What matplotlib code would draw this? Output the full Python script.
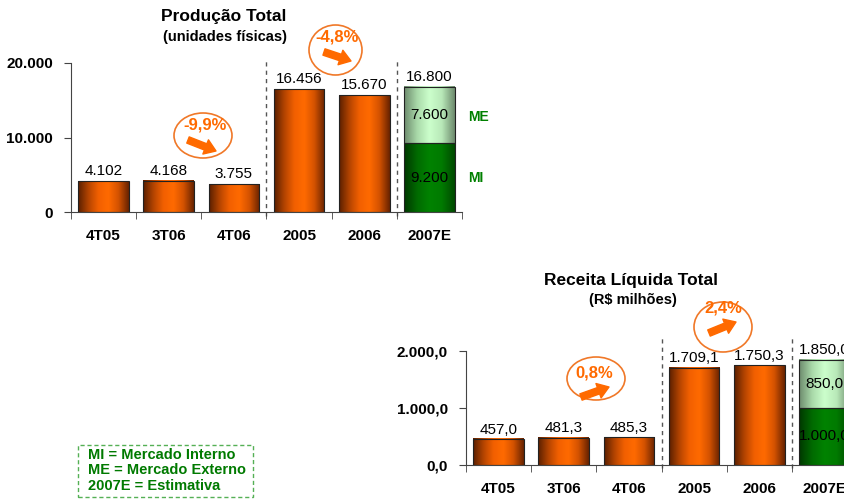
import numpy as np
import matplotlib
matplotlib.use('Agg')
import matplotlib.pyplot as plt
from matplotlib.colors import LinearSegmentedColormap
from matplotlib.patches import Ellipse, FancyArrowPatch, Rectangle

plt.rcParams['font.family'] = ['Liberation Sans', 'DejaVu Sans']

# dados
categorias = ['4T05', '3T06', '4T06', '2005', '2006', '2007E']
producao = [4102, 4168, 3755, 16456, 15670]
producao_mi = 9200
producao_me = 7600
receita = [457.0, 481.3, 485.3, 1709.1, 1750.3]
receita_mi = 1000.0
receita_me = 850.0
var_producao = ['-9,9%', '-4,8%']
var_receita = ['0,8%', '2,4%']

W, H = 844, 499
fig = plt.figure(figsize=(W / 100, H / 100), dpi=100)

cm_laranja = LinearSegmentedColormap.from_list(
    'lar', ['#5c2000', '#b44400', '#f26000', '#ff6a00', '#d45200', '#6a2400'])
cm_verde = LinearSegmentedColormap.from_list(
    'vd', ['#003800', '#006a00', '#008200', '#007a00', '#004a00'])
cm_claro = LinearSegmentedColormap.from_list(
    'cl', ['#6e8c6e', '#a8d8a8', '#ccffcc', '#b8e8b8', '#6e8c6e'])
grad = np.linspace(0, 1, 64).reshape(1, -1)


def fmt_int(v):
    return '{:,.0f}'.format(v).replace(',', '.')


def fmt_dec(v):
    s = '{:,.1f}'.format(v)
    return s.replace(',', 'X').replace('.', ',').replace('X', '.')


def pinta(ax, barras, cmap):
    for b in barras:
        x0, y0 = b.get_x(), b.get_y()
        ax.imshow(grad, extent=(x0, x0 + b.get_width(), y0, y0 + b.get_height()),
                  aspect='auto', cmap=cmap, zorder=2, interpolation='bicubic')
        b.set_facecolor('none')
        b.set_zorder(3)


def grafico(ax, valores, mi, me, ymax, yticks, fmt, ytlabels, topo_tracejado):
    x = np.arange(len(categorias))
    b1 = ax.bar(x[:5], valores, width=0.78, edgecolor='#222222', linewidth=0.8)
    pinta(ax, b1, cm_laranja)
    b2 = ax.bar(x[5], mi, width=0.78, edgecolor='#222222', linewidth=0.8)
    pinta(ax, b2, cm_verde)
    b3 = ax.bar(x[5], me, bottom=mi, width=0.78, edgecolor='#222222', linewidth=0.8)
    pinta(ax, b3, cm_claro)
    ax.set_xlim(-0.5, 5.5)
    ax.set_ylim(0, ymax)
    for xi, v in zip(x[:5], valores):
        ax.text(xi, v + ymax * 0.02, fmt(v), ha='center', va='bottom', fontsize=11, zorder=5)
    ax.text(x[5], mi + me + ymax * 0.02, fmt(mi + me), ha='center', va='bottom', fontsize=11, zorder=5)
    ax.text(x[5], mi / 2, fmt(mi), ha='center', va='center', fontsize=11, zorder=5)
    ax.text(x[5], mi + me / 2, fmt(me), ha='center', va='center', fontsize=11, zorder=5)
    for sx in [2.5, 4.5]:
        ax.axvline(sx, ymin=-0.03, ymax=topo_tracejado, color='#555555',
                   linestyle=(0, (3, 3)), linewidth=1, clip_on=False, zorder=1)
    ax.set_xticks(x)
    ax.set_xticklabels(categorias, fontsize=11, fontweight='bold')
    ax.set_xticks(np.arange(-0.5, 6.0, 1), minor=True)
    ax.tick_params(axis='x', which='major', length=0, pad=12)
    ax.tick_params(axis='x', which='minor', length=5, color='#444444')
    ax.set_yticks(yticks)
    ax.set_yticklabels(ytlabels, fontsize=11, fontweight='bold')
    ax.tick_params(axis='y', length=5, pad=8, color='#444444')
    for s in ['top', 'right']:
        ax.spines[s].set_visible(False)
    for s in ['left', 'bottom']:
        ax.spines[s].set_color('#444444')
    ax.patch.set_alpha(0)


def fx(px):
    return px / W


def fy(py):
    return 1 - py / H


# grafico de producao
ax1 = fig.add_axes([fx(71), fy(212), fx(391), (212 - 63) / H])
grafico(ax1, producao, producao_mi, producao_me, 20000, [0, 10000, 20000], fmt_int,
        ['0', '10.000', '20.000'], 1.03)
fig.text(fx(224), fy(16), 'Produção Total', ha='center', va='center', fontsize=12.5, fontweight='bold')
fig.text(fx(225), fy(37), '(unidades físicas)', ha='center', va='center', fontsize=10.5, fontweight='bold')
fig.text(fx(468), fy(117), 'ME', color='#008000', fontsize=10, fontweight='bold', va='center')
fig.text(fx(468), fy(178), 'MI', color='#008000', fontsize=10, fontweight='bold', va='center')

# grafico de receita
ax2 = fig.add_axes([fx(466), fy(465), fx(391), (465 - 351) / H])
grafico(ax2, receita, receita_mi, receita_me, 2000, [0, 1000, 2000], fmt_dec,
        ['0,0', '1.000,0', '2.000,0'], 1.14)
fig.text(fx(631), fy(280), 'Receita Líquida Total', ha='center', va='center', fontsize=12.5, fontweight='bold')
fig.text(fx(633), fy(300), '(R$ milhões)', ha='center', va='center', fontsize=10.5, fontweight='bold')

# circulos de variacao: (centro), (tamanho), texto, (posicao texto), seta
laranja = '#ff6a00'
circulos = [((203, 135.5), (58, 45), var_producao[0], (205, 125), (188, 140), (216, 151)),
            ((335.5, 50), (53, 50), var_producao[1], (337.5, 37), (324, 52), (351, 61)),
            ((596, 378.5), (58, 43), var_receita[0], (594, 373), (581, 397), (609, 387)),
            ((723, 327), (58, 50), var_receita[1], (723, 308), (709, 333), (736, 322))]
for (cx, cy), (ew, eh), txt, (tx, ty), p0, p1 in circulos:
    fig.patches.append(Ellipse((fx(cx), fy(cy)), fx(ew), eh / H, transform=fig.transFigure,
                               facecolor='none', edgecolor='#f07828', linewidth=1.2))
    fig.text(fx(tx), fy(ty), txt, color=laranja, fontsize=12, fontweight='bold',
             ha='center', va='center')
    fig.patches.append(FancyArrowPatch((fx(p0[0]), fy(p0[1])), (fx(p1[0]), fy(p1[1])),
                                       transform=fig.transFigure, color=laranja,
                                       arrowstyle='simple,tail_width=4.8,head_width=11,head_length=8',
                                       mutation_scale=1, shrinkA=0, shrinkB=0))

# legenda
fig.patches.append(Rectangle((fx(78), fy(497)), fx(175), (497 - 445) / H, transform=fig.transFigure,
                             facecolor='none', edgecolor='#55b055', linewidth=1,
                             linestyle=(0, (3, 2))))
for i, linha in enumerate(['MI = Mercado Interno', 'ME = Mercado Externo', '2007E = Estimativa']):
    fig.text(fx(88), fy(455 + i * 15.5), linha, color='#007a00', fontsize=10.5,
             fontweight='bold', va='center')

fig.savefig('out.png', dpi=100)
